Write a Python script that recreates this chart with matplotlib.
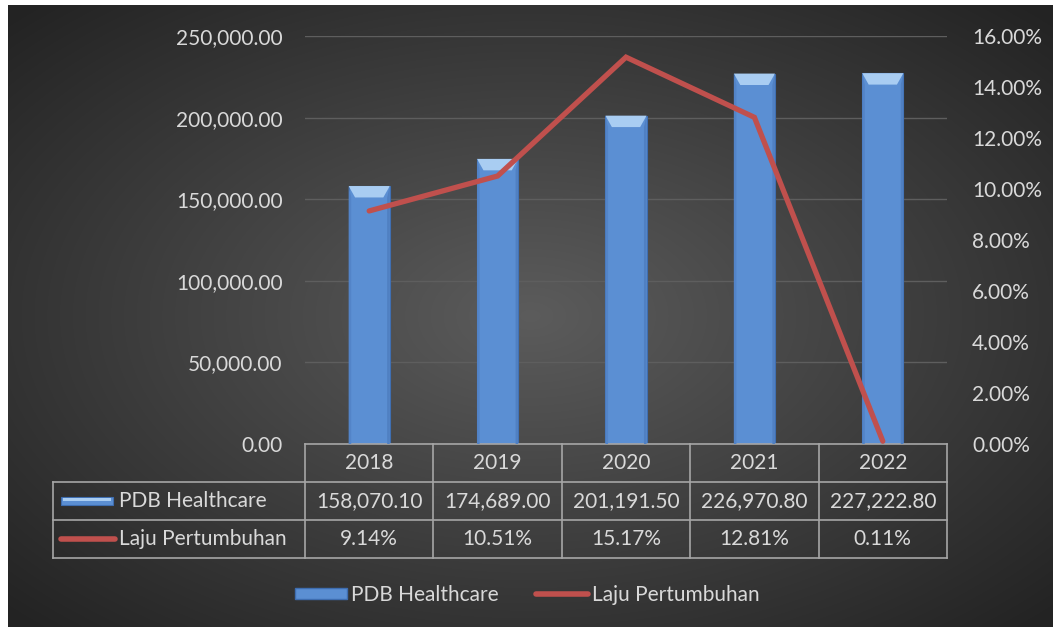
import numpy as np
import matplotlib.pyplot as plt
from matplotlib.patches import Patch, Rectangle, Polygon
from matplotlib.lines import Line2D
import matplotlib.transforms as mtransforms

years = ['2018', '2019', '2020', '2021', '2022']
pdb = [158070.10, 174689.00, 201191.50, 226970.80, 227222.80]
laju = [9.14, 10.51, 15.17, 12.81, 0.11]
pdb_labels = ['158,070.10', '174,689.00', '201,191.50', '226,970.80', '227,222.80']
laju_labels = ['9.14%', '10.51%', '15.17%', '12.81%', '0.11%']

plt.rcParams['font.family'] = ['Lato', 'DejaVu Sans']
txt = '#d9d9d9'
fs = 15

W, H = 1055, 627
fig = plt.figure(figsize=(W / 100, H / 100), dpi=100)
fig.patch.set_facecolor('white')

# background with radial gradient
bg = fig.add_axes([8 / W, 0, 1 - 10 / W, 1 - 5 / H])
bg.set_axis_off()
yy, xx = np.mgrid[0:1:300j, 0:1:500j]
r = np.sqrt(((xx - 0.5) / 0.75) ** 2 + ((yy - 0.5) / 0.75) ** 2)
g = np.clip(0.36 - 0.24 * r, 0.14, 0.36)
bg.imshow(np.dstack([g, g, g]), aspect='auto', extent=[0, 1, 0, 1], interpolation='bilinear')

x0, x1 = 305, 947
ybot, ytop = 444, 36
ax = fig.add_axes([x0 / W, 1 - ybot / H, (x1 - x0) / W, (ybot - ytop) / H])
ax.set_facecolor('none')
x = np.arange(len(years))
bw = 0.32
bars = ax.bar(x, pdb, width=bw, color='#5b8fd3', edgecolor='#3f6fb2', linewidth=0.8, zorder=2)
# bevel on top of each bar
for xi, v in zip(x, pdb):
    bh = 7000
    d = 0.05
    ax.add_patch(Polygon([[xi - bw / 2, v], [xi + bw / 2, v], [xi + bw / 2 - d, v - bh], [xi - bw / 2 + d, v - bh]],
                         closed=True, facecolor='#a9cdf2', edgecolor='none', zorder=3))
    ax.add_patch(Polygon([[xi - bw / 2, v], [xi - bw / 2 + 0.02, v - bh], [xi - bw / 2 + 0.02, 0], [xi - bw / 2, 0]],
                         closed=True, facecolor='#5384c8', edgecolor='none', zorder=3))
    ax.add_patch(Polygon([[xi + bw / 2, v], [xi + bw / 2 - 0.02, v - bh], [xi + bw / 2 - 0.02, 0], [xi + bw / 2, 0]],
                         closed=True, facecolor='#5080c2', edgecolor='none', zorder=3))

ax.set_xlim(-0.5, len(years) - 0.5)
ax.set_ylim(0, 250000)
ax.set_yticks(np.arange(0, 250001, 50000))
ax.set_yticklabels([f'{v:,.2f}' for v in np.arange(0, 250001, 50000)])
ax.grid(axis='y', color='#5e5e5e', linewidth=1, zorder=0)
ax.set_axisbelow(True)
ax.tick_params(axis='y', length=0, pad=16, labelsize=fs, labelcolor=txt)
ax.tick_params(axis='x', length=0, labelbottom=False)
for s in ax.spines.values():
    s.set_visible(False)

ax2 = ax.twinx()
ax2.plot(x, laju, color='#c0504d', linewidth=3.8, solid_capstyle='round', solid_joinstyle='miter', zorder=4)
ax2.set_ylim(0, 16)
ax2.set_yticks(np.arange(0, 16.1, 2))
ax2.set_yticklabels([f'{v:.2f}%' for v in np.arange(0, 16.1, 2)])
ax2.tick_params(axis='y', length=0, pad=18, labelsize=fs, labelcolor=txt)
for s in ax2.spines.values():
    s.set_visible(False)

# data table below the axes
rh = 38 / (ybot - ytop)
leftx = (53 - x0) / (x1 - x0)
tcol = '#a6a6a6'
tr = mtransforms.blended_transform_factory(ax.transData, ax.transAxes)
lw = 1.2
for k in range(4):
    yv = -k * rh
    xs = 0 if k == 0 else leftx
    ax.plot([xs, 1], [yv, yv], transform=ax.transAxes, color=tcol, lw=lw, clip_on=False)
for xv in np.arange(-0.5, len(years), 1.0):
    ax.plot([xv, xv], [0, -3 * rh], transform=tr, color=tcol, lw=lw, clip_on=False)
ax.plot([leftx, leftx], [-rh, -3 * rh], transform=ax.transAxes, color=tcol, lw=lw, clip_on=False)

for i in range(len(years)):
    ax.text(x[i], -0.5 * rh, years[i], transform=tr, ha='center', va='center', fontsize=fs, color=txt)
    ax.text(x[i], -1.5 * rh, pdb_labels[i], transform=tr, ha='center', va='center', fontsize=fs, color=txt)
    ax.text(x[i], -2.5 * rh, laju_labels[i], transform=tr, ha='center', va='center', fontsize=fs, color=txt)

# row labels with swatches
pxw = 1 / (x1 - x0)
ax.add_patch(Rectangle((leftx + 8 * pxw, -1.5 * rh - 4 / 408), 52 * pxw, 8 / 408, transform=ax.transAxes,
                       facecolor='#5b8fd3', edgecolor='#3e6db0', lw=0.8, clip_on=False))
ax.add_patch(Rectangle((leftx + 10 * pxw, -1.5 * rh), 48 * pxw, 3 / 408, transform=ax.transAxes,
                       facecolor='#a9cdf2', edgecolor='none', clip_on=False))
ax.text(leftx + 66 * pxw, -1.5 * rh, 'PDB Healthcare', transform=ax.transAxes, ha='left', va='center',
        fontsize=fs, color=txt)
ax.plot([leftx + 8 * pxw, leftx + 62 * pxw], [-2.5 * rh, -2.5 * rh], transform=ax.transAxes, color='#c0504d',
        lw=4, solid_capstyle='round', clip_on=False)
ax.text(leftx + 66 * pxw, -2.5 * rh, 'Laju Pertumbuhan', transform=ax.transAxes, ha='left', va='center',
        fontsize=fs, color=txt)

# legend at bottom
handles = [Patch(facecolor='#5b8fd3', edgecolor='#3e6db0', label='PDB Healthcare'),
           Line2D([], [], color='#c0504d', lw=4, solid_capstyle='round', label='Laju Pertumbuhan')]
leg = fig.legend(handles=handles, loc='center', bbox_to_anchor=(0.5, 1 - 595 / H), ncol=2, frameon=False,
                 fontsize=fs, labelcolor=txt, handlelength=2.5, handleheight=0.45, handletextpad=0.2,
                 columnspacing=1.8)

fig.savefig('out.png', dpi=100)
